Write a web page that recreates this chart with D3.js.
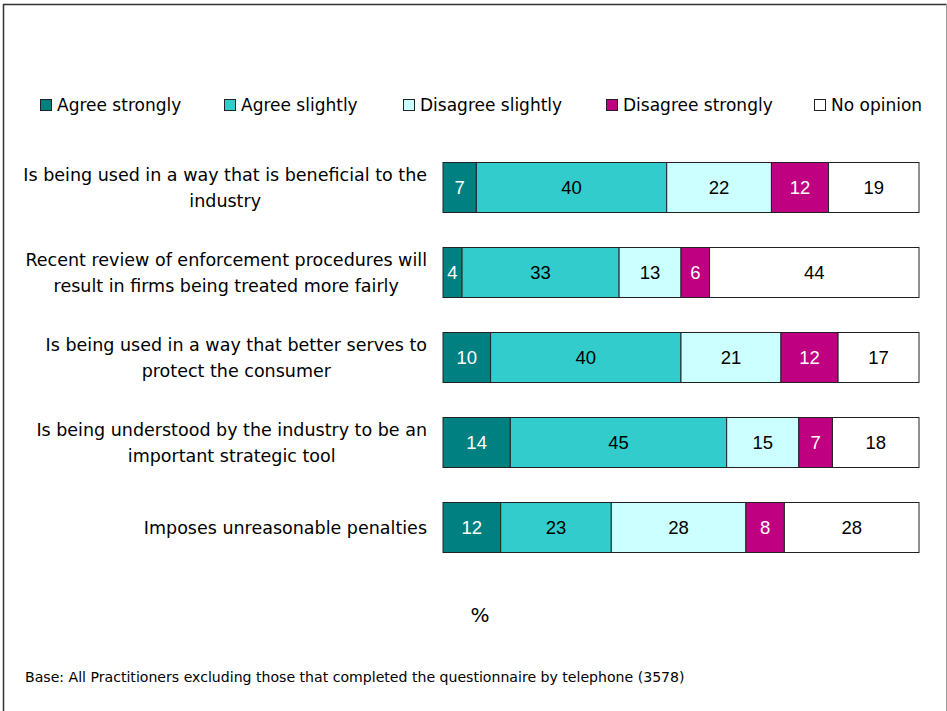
<!DOCTYPE html>
<html>
<head>
<meta charset="utf-8">
<script src="https://cdn.jsdelivr.net/npm/d3@7"></script>
<style>
  html, body { margin: 0; padding: 0; background: #fff; }
  svg { display: block; }
</style>
</head>
<body>
<svg id="chart" width="947" height="711"></svg>
<script>
// Survey statements (two-line labels split with "|")
const statements = [
  "Is being used in a way that is beneficial to the|industry",
  "Recent review of enforcement procedures will|result in firms being treated more fairly",
  "Is being used in a way that better serves to|protect the consumer",
  "Is being understood by the industry to be an|important strategic tool",
  "Imposes unreasonable penalties"
];

const responses = ["Agree strongly", "Agree slightly", "Disagree slightly", "Disagree strongly", "No opinion"];

// Percentages per response, one value per statement
const agreeStrongly    = [7, 4, 10, 14, 12];
const agreeSlightly    = [40, 33, 40, 45, 23];
const disagreeSlightly = [22, 13, 21, 15, 28];
const disagreeStrongly = [12, 6, 12, 7, 8];
const noOpinion        = [19, 44, 17, 18, 28];

const responseColors = ["#008080", "#33CCCC", "#CCFFFF", "#BF0080", "#FFFFFF"];
const labelColors    = ["#FFFFFF", "#000000", "#000000", "#FFFFFF", "#000000"];

const seriesValues = [agreeStrongly, agreeSlightly, disagreeSlightly, disagreeStrongly, noOpinion];

const rows = statements.map((s, i) => {
  const r = { statement: s };
  responses.forEach((k, j) => { r[k] = seriesValues[j][i]; });
  return r;
});

const svg = d3.select("#chart");
const labelFont = "'DejaVu Sans', Verdana, sans-serif";
const valueFont = "'Liberation Sans', Arial, sans-serif";

// Frame
svg.append("line").attr("x1", 3.5).attr("x2", 3.5).attr("y1", 4).attr("y2", 711)
  .attr("stroke", "#333").attr("stroke-width", 1.5);
svg.append("line").attr("x1", 3).attr("x2", 947).attr("y1", 4.5).attr("y2", 4.5)
  .attr("stroke", "#333").attr("stroke-width", 1.5);
svg.append("line").attr("x1", 946.5).attr("x2", 946.5).attr("y1", 4).attr("y2", 711)
  .attr("stroke", "#999").attr("stroke-width", 1);

// Scales
const x = d3.scaleLinear().domain([0, 1]).range([443, 919]);
const y = d3.scaleBand().domain(statements).range([145, 570])
  .paddingInner(35 / 85).paddingOuter(17.5 / 85);
const color = d3.scaleOrdinal().domain(responses).range(responseColors);
const textColor = d3.scaleOrdinal().domain(responses).range(labelColors);

const stacked = d3.stack().keys(responses).offset(d3.stackOffsetExpand)(rows);

// Bars
const layers = svg.append("g").selectAll("g").data(stacked).join("g")
  .attr("fill", d => color(d.key));

layers.selectAll("rect").data(d => d.map(p => ({ p, key: d.key }))).join("rect")
  .attr("x", d => x(d.p[0]))
  .attr("y", d => y(d.p.data.statement))
  .attr("width", d => x(d.p[1]) - x(d.p[0]))
  .attr("height", y.bandwidth())
  .attr("stroke", "#222")
  .attr("stroke-width", 1);

// Value labels
layers.selectAll("text").data(d => d.map(p => ({ p, key: d.key }))).join("text")
  .attr("x", d => (x(d.p[0]) + x(d.p[1])) / 2)
  .attr("y", d => y(d.p.data.statement) + y.bandwidth() / 2)
  .attr("dy", "0.36em")
  .attr("text-anchor", "middle")
  .attr("font-family", valueFont)
  .attr("font-size", 18.5)
  .attr("fill", d => textColor(d.key))
  .text(d => d.p.data[d.key]);

// Category labels: block right-aligned to the bars, lines centred within the block
const labelRight = 427;
const cat = svg.append("g").selectAll("text").data(statements).join("text")
  .attr("text-anchor", "middle")
  .attr("font-family", labelFont)
  .attr("font-size", 17.5)
  .attr("fill", "#000");

cat.each(function (s) {
  const lines = s.split("|");
  const cy = y(s) + y.bandwidth() / 2;
  const lh = 26;
  const t = d3.select(this);
  const spans = lines.map((ln, i) => t.append("tspan")
    .attr("y", cy + (i - (lines.length - 1) / 2) * lh)
    .attr("dy", "0.36em")
    .text(ln));
  const maxW = d3.max(spans, sp => sp.node().getComputedTextLength());
  spans.forEach(sp => sp.attr("x", labelRight - maxW / 2));
});

// Legend
const legendX = [40, 224, 403, 606, 814];
const legend = svg.append("g").selectAll("g").data(responses).join("g")
  .attr("transform", (d, i) => `translate(${legendX[i]},105)`);
legend.append("rect")
  .attr("x", 0.5).attr("y", -5.5).attr("width", 11).attr("height", 11)
  .attr("fill", d => color(d)).attr("stroke", "#222").attr("stroke-width", 1);
legend.append("text")
  .attr("x", 17).attr("y", 0).attr("dy", "0.36em")
  .attr("font-family", labelFont).attr("font-size", 17)
  .text(d => d);

// Axis unit
svg.append("text")
  .attr("x", 480).attr("y", 615).attr("dy", "0.36em")
  .attr("text-anchor", "middle")
  .attr("font-family", labelFont).attr("font-size", 20)
  .text("%");

// Base note
svg.append("text")
  .attr("x", 25).attr("y", 677).attr("dy", "0.36em")
  .attr("font-family", labelFont).attr("font-size", 14.1)
  .text("Base: All Practitioners excluding those that completed the questionnaire by telephone (3578)");
</script>
</body>
</html>
